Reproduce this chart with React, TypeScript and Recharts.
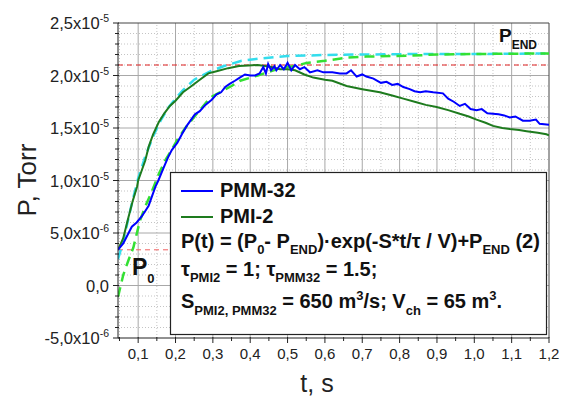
import React from 'react'
import { LineChart, Line, XAxis, YAxis, ReferenceLine } from 'recharts'

const FONT = "'Liberation Sans', Arial, sans-serif"

// P in units of 1e-5 Torr, t in s
const pmmT = [0.046, 0.06, 0.083, 0.096, 0.11, 0.128, 0.146, 0.154, 0.168, 0.18, 0.19, 0.205, 0.217, 0.23, 0.24, 0.252, 0.265, 0.28, 0.297, 0.31, 0.322, 0.333, 0.345, 0.359, 0.372, 0.386, 0.4, 0.413, 0.425, 0.435, 0.442, 0.448, 0.456, 0.465, 0.47, 0.48, 0.49, 0.5, 0.51, 0.52, 0.533, 0.545, 0.56, 0.58, 0.596, 0.62, 0.64, 0.658, 0.67, 0.685, 0.7, 0.711, 0.73, 0.75, 0.765, 0.78, 0.795, 0.81, 0.827, 0.84, 0.855, 0.87, 0.89, 0.916, 0.93, 0.945, 0.961, 0.975, 0.99, 1.006, 1.02, 1.035, 1.05, 1.065, 1.08, 1.095, 1.11, 1.13, 1.148, 1.165, 1.175, 1.2]
const pmmP = [0.34, 0.4, 0.56, 0.6, 0.66, 0.76, 0.94, 1.0, 1.12, 1.22, 1.29, 1.36, 1.44, 1.52, 1.57, 1.63, 1.66, 1.72, 1.77, 1.82, 1.84, 1.89, 1.92, 1.95, 1.98, 2.01, 2.0, 2.0, 2.02, 2.08, 2.02, 2.11, 2.05, 2.09, 2.05, 2.1, 2.06, 2.12, 2.05, 2.1, 2.06, 2.08, 2.03, 2.05, 2.03, 2.03, 2.02, 2.02, 2.05, 1.99, 2.01, 1.99, 1.97, 1.93, 1.94, 1.91, 1.92, 1.89, 1.87, 1.85, 1.84, 1.85, 1.84, 1.83, 1.78, 1.75, 1.71, 1.73, 1.68, 1.67, 1.68, 1.64, 1.635, 1.63, 1.62, 1.6, 1.61, 1.57, 1.57, 1.58, 1.54, 1.53]

const pmiT = [0.046, 0.06, 0.074, 0.085, 0.097, 0.1, 0.11, 0.119, 0.128, 0.14, 0.155, 0.17, 0.185, 0.2, 0.22, 0.243, 0.265, 0.288, 0.31, 0.341, 0.37, 0.395, 0.42, 0.44, 0.457, 0.48, 0.5, 0.52, 0.545, 0.569, 0.6, 0.62, 0.658, 0.7, 0.747, 0.78, 0.81, 0.845, 0.87, 0.899, 0.93, 0.961, 0.985, 1.006, 1.03, 1.05, 1.075, 1.095, 1.12, 1.14, 1.17, 1.193, 1.2]
const pmiP = [0.34, 0.45, 0.65, 0.8, 0.94, 1.0, 1.1, 1.19, 1.32, 1.44, 1.555, 1.64, 1.71, 1.76, 1.84, 1.9, 1.96, 2.02, 2.04, 2.07, 2.09, 2.095, 2.1, 2.09, 2.08, 2.06, 2.06, 2.05, 2.01, 1.98, 1.96, 1.95, 1.9, 1.87, 1.84, 1.81, 1.78, 1.745, 1.72, 1.7, 1.67, 1.635, 1.61, 1.58, 1.55, 1.52, 1.5, 1.49, 1.48, 1.47, 1.455, 1.44, 1.43]

const fitPmiT = [0.046, 0.06, 0.083, 0.1, 0.119, 0.14, 0.16, 0.18, 0.2, 0.22, 0.25, 0.293, 0.33, 0.377, 0.42, 0.5, 0.6, 0.7, 0.85, 1.0, 1.2]
const fitPmiP = [0.25, 0.42, 0.78, 1.02, 1.23, 1.42, 1.57, 1.69, 1.78, 1.86, 1.96, 2.04, 2.09, 2.14, 2.16, 2.185, 2.195, 2.2, 2.205, 2.205, 2.21]

const fitPmmT = [0.046, 0.06, 0.074, 0.087, 0.105, 0.12, 0.137, 0.155, 0.172, 0.186, 0.205, 0.226, 0.258, 0.293, 0.35, 0.373, 0.42, 0.48, 0.52, 0.551, 0.6, 0.658, 0.71, 0.835, 0.9, 1.0, 1.2]
const fitPmmP = [-0.11, 0.1, 0.24, 0.36, 0.62, 0.76, 0.9, 1.06, 1.19, 1.27, 1.39, 1.5, 1.64, 1.79, 1.9, 1.95, 2.0, 2.07, 2.09, 2.12, 2.14, 2.17, 2.18, 2.19, 2.2, 2.205, 2.21]

const pLevelMax = 2.1
const pLevelStart = 0.34

const xMajorTicks = [0.1, 0.2, 0.3, 0.4, 0.5, 0.6, 0.7, 0.8, 0.9, 1.0, 1.1, 1.2]
const xTickLabels = ['0,1', '0,2', '0,3', '0,4', '0,5', '0,6', '0,7', '0,8', '0,9', '1,0', '1,1', '1,2']
const yMajorTicks = [-0.5, 0, 0.5, 1.0, 1.5, 2.0, 2.5]
const yTickMantissa = ['-5,0', '0,0', '5,0', '1,0', '1,5', '2,0', '2,5']
const yTickExp = ['-6', '', '-6', '-5', '-5', '-5', '-5']

const toRows = (ts: number[], ps: number[]) => ts.map((t, i) => ({ t, p: ps[i] }))
const pmmData = toRows(pmmT, pmmP)
const pmiData = toRows(pmiT, pmiP)
const fitPmiData = toRows(fitPmiT, fitPmiP)
const fitPmmData = toRows(fitPmmT, fitPmmP)

const xAllTicks = Array.from({ length: 24 }, (_, i) => Math.round((i + 1) * 5) / 100)
const yAllTicks = Array.from({ length: 31 }, (_, i) => Math.round(i - 5) / 10)
const near = (a: number, b: number) => Math.abs(a - b) < 1e-6
const xMinor = xAllTicks.filter((v) => !xMajorTicks.some((m) => near(m, v)))
const yMinor = yAllTicks.filter((v) => !yMajorTicks.some((m) => near(m, v)))

const XTick = (props: any) => {
  const { x, y, payload } = props
  const i = xMajorTicks.findIndex((m) => near(m, payload.value))
  const major = i >= 0
  return (
    <g>
      <line x1={x} x2={x} y1={y - 1} y2={y + (major ? 5 : 3)} stroke="#222" />
      {major && (
        <text x={x} y={y + 21} textAnchor="middle" fontFamily={FONT} fontSize={15} fill="#222">
          {xTickLabels[i]}
        </text>
      )}
    </g>
  )
}

const YTick = (props: any) => {
  const { x, y, payload } = props
  const i = yMajorTicks.findIndex((m) => near(m, payload.value))
  const major = i >= 0
  return (
    <g>
      <line x1={x - (major ? 5 : 3)} x2={x + 1} y1={y} y2={y} stroke="#222" />
      {major && (
        <text x={x - 9} y={y + 6} textAnchor="end" fontFamily={FONT} fontSize={16.5} fill="#222">
          <tspan>{yTickExp[i] ? yTickMantissa[i] + 'x10' : yTickMantissa[i]}</tspan>
          {yTickExp[i] && (
            <tspan dy={-7} fontSize={10.5}>
              {yTickExp[i]}
            </tspan>
          )}
        </text>
      )}
    </g>
  )
}

const SUB = 13
const LEG = 20

const Overlay = () => (
  <svg width={566} height={398} style={{ position: 'absolute', left: 0, top: 0, pointerEvents: 'none' }}>
    <text x={36} y={180} transform="rotate(-90 36 180)" textAnchor="middle" fontFamily={FONT} fontSize={26} fill="#222">
      P, Torr
    </text>
    <text x={317} y={392} textAnchor="middle" fontFamily={FONT} fontSize={25} fill="#222">
      t, s
    </text>
    <text x={499} y={42} fontFamily={FONT} fontWeight="bold" fontSize={19} fill="#111">
      P<tspan dy={7} fontSize={12}>END</tspan>
    </text>
    <text x={132} y={275} fontFamily={FONT} fontWeight="bold" fontSize={23} fill="#111">
      P<tspan dy={8} fontSize={13}>0</tspan>
    </text>

    <rect x={170.5} y={172.5} width={376} height={162} fill="#fff" stroke="#222" strokeWidth={1.2} />
    <line x1={181} x2={213} y1={191} y2={191} stroke="#0000ff" strokeWidth={2} />
    <line x1={181} x2={213} y1={217} y2={217} stroke="#1e7b1e" strokeWidth={2} />
    <g fontFamily={FONT} fontWeight="bold" fill="#111">
      <text x={220} y={197} fontSize={LEG}>PMM-32</text>
      <text x={220} y={223} fontSize={LEG}>PMI-2</text>
      <text x={181} y={248} fontSize={LEG}>
        <tspan>P(t) = (P</tspan>
        <tspan dy={6} fontSize={SUB}>0</tspan>
        <tspan dy={-6}>- P</tspan>
        <tspan dy={6} fontSize={SUB}>END</tspan>
        <tspan dy={-6}>)·exp(-S*t/τ / V)+P</tspan>
        <tspan dy={6} fontSize={SUB}>END</tspan>
        <tspan dy={-6}> (2)</tspan>
      </text>
      <text x={181} y={276} fontSize={LEG}>
        <tspan>τ</tspan>
        <tspan dy={6} fontSize={SUB}>PMI2</tspan>
        <tspan dy={-6}> = 1; τ</tspan>
        <tspan dy={6} fontSize={SUB}>PMM32</tspan>
        <tspan dy={-6}> = 1.5;</tspan>
      </text>
      <text x={181} y={308} fontSize={LEG}>
        <tspan>S</tspan>
        <tspan dy={7} fontSize={SUB}>PMI2, PMM32</tspan>
        <tspan dy={-7}> = 650 m</tspan>
        <tspan dy={-8} fontSize={SUB}>3</tspan>
        <tspan dy={8}>/s; V</tspan>
        <tspan dy={7} fontSize={SUB}>ch</tspan>
        <tspan dy={-7}> = 65 m</tspan>
        <tspan dy={-8} fontSize={SUB}>3</tspan>
        <tspan dy={8}>.</tspan>
      </text>
    </g>
  </svg>
)

export default function App() {
  return (
    <div style={{ position: 'absolute', left: 0, top: 0, width: 566, height: 398, background: '#fff' }}>
      <LineChart width={566} height={398} margin={{ top: 23, right: 17, bottom: 0, left: 0 }}>
        <XAxis
          dataKey="t"
          type="number"
          domain={[0.046, 1.2]}
          allowDataOverflow
          ticks={xAllTicks}
          interval={0}
          height={60}
          tickLine={false}
          tickSize={0}
          tickMargin={0}
          axisLine={{ stroke: '#222' }}
          tick={(p: any) => <XTick {...p} />}
        />
        <YAxis
          type="number"
          domain={[-0.5, 2.5]}
          allowDataOverflow
          ticks={yAllTicks}
          interval={0}
          width={118}
          tickLine={false}
          tickSize={0}
          tickMargin={0}
          axisLine={{ stroke: '#222' }}
          tick={(p: any) => <YTick {...p} />}
        />
        {xMinor.map((v) => (
          <ReferenceLine key={'xm' + v} x={v} stroke="#c4c4c4" strokeDasharray="1 2" />
        ))}
        {yMinor.map((v) => (
          <ReferenceLine key={'ym' + v} y={v} stroke="#c4c4c4" strokeDasharray="1 2" />
        ))}
        {xMajorTicks.slice(0, -1).map((v) => (
          <ReferenceLine key={'xM' + v} x={v} stroke="#a8a8a8" />
        ))}
        {yMajorTicks.slice(1, -1).map((v) => (
          <ReferenceLine key={'yM' + v} y={v} stroke="#a8a8a8" />
        ))}
        <ReferenceLine y={2.5} stroke="#444" />
        <ReferenceLine x={1.2} stroke="#444" />
        <ReferenceLine y={pLevelMax} stroke="#e02020" strokeDasharray="5 4" />
        <ReferenceLine y={pLevelStart} stroke="#f06060" strokeDasharray="5 4" />
        <Line data={fitPmiData} dataKey="p" stroke="#33dded" strokeWidth={2.5} strokeDasharray="10 6" dot={false} activeDot={false} isAnimationActive={false} />
        <Line data={fitPmmData} dataKey="p" stroke="#33e033" strokeWidth={2.5} strokeDasharray="10 6" dot={false} activeDot={false} isAnimationActive={false} />
        <Line data={pmiData} dataKey="p" stroke="#1e7b1e" strokeWidth={2} dot={false} activeDot={false} isAnimationActive={false} />
        <Line data={pmmData} dataKey="p" stroke="#0000ff" strokeWidth={2} dot={false} activeDot={false} isAnimationActive={false} />
      </LineChart>
      <Overlay />
    </div>
  )
}
